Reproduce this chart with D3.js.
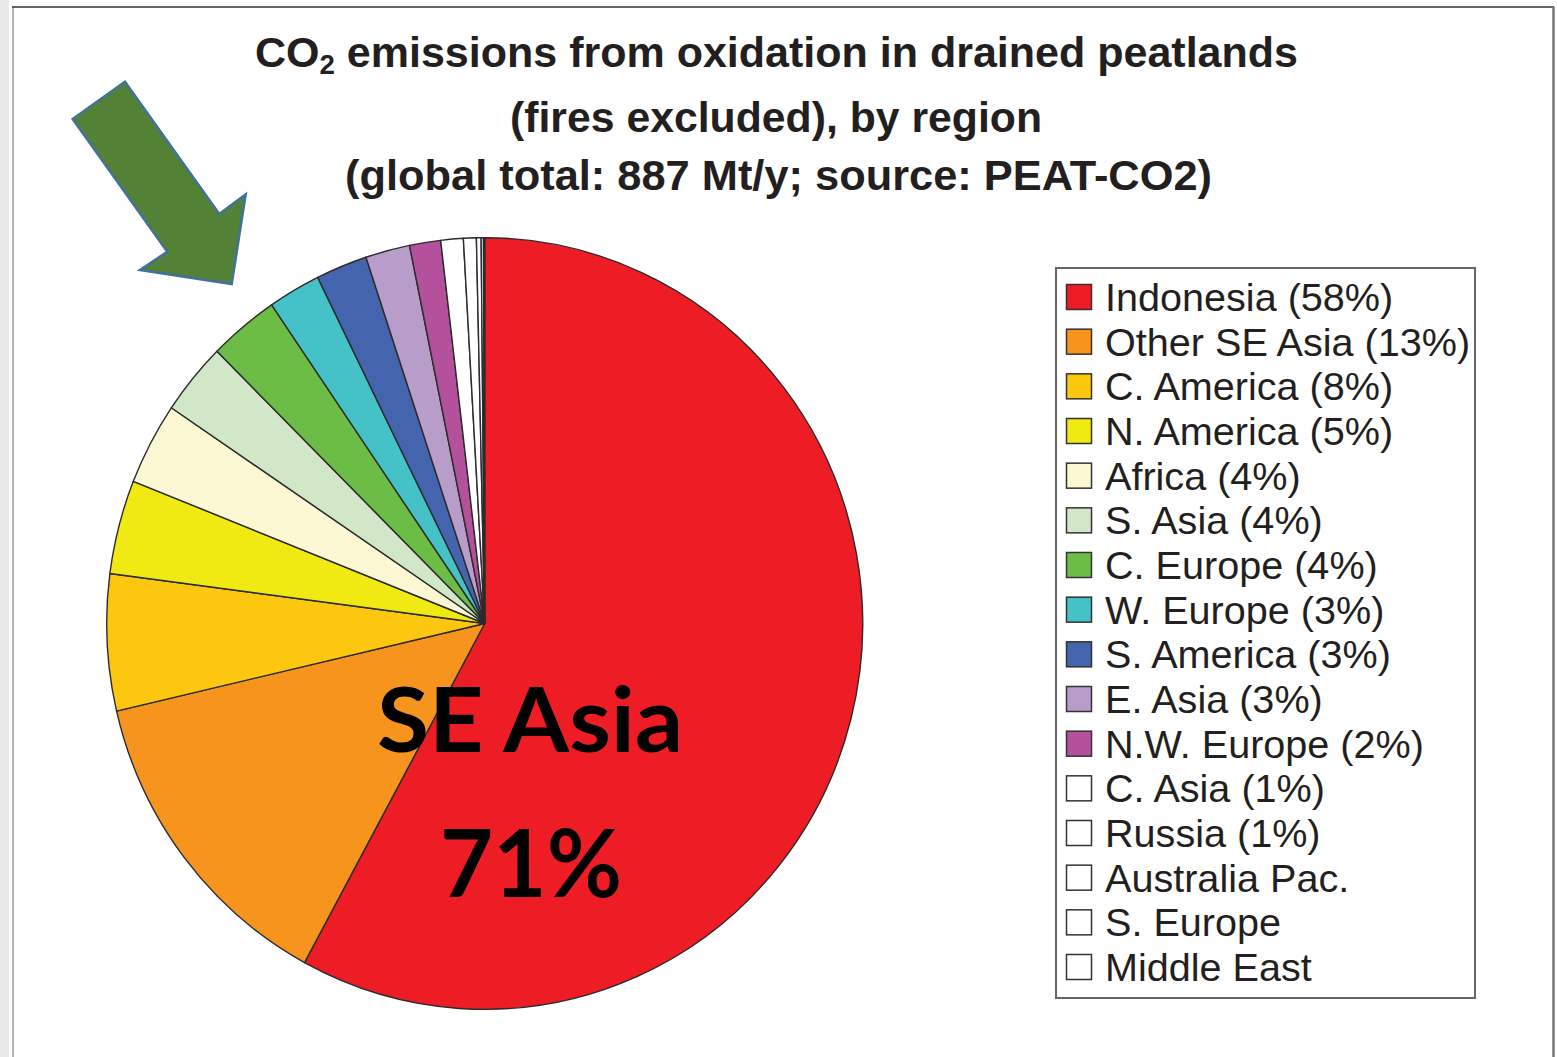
<!DOCTYPE html>
<html>
<head>
<meta charset="utf-8">
<script src="https://cdn.jsdelivr.net/npm/d3@7"></script>
<style>
  html, body { margin: 0; padding: 0; background: #ffffff; }
  svg { display: block; }
</style>
</head>
<body>
<svg id="chart" width="1557" height="1057"></svg>
<script>
// ---- Data ----
const regions = ["Indonesia", "Other SE Asia", "C. America", "N. America", "Africa", "S. Asia",
  "C. Europe", "W. Europe", "S. America", "E. Asia", "N.W. Europe", "C. Asia", "Russia",
  "Australia Pac.", "S. Europe", "Middle East"];
const legendLabels = ["Indonesia (58%)", "Other SE Asia (13%)", "C. America (8%)", "N. America (5%)",
  "Africa (4%)", "S. Asia (4%)", "C. Europe (4%)", "W. Europe (3%)", "S. America (3%)", "E. Asia (3%)",
  "N.W. Europe (2%)", "C. Asia (1%)", "Russia (1%)", "Australia Pac.", "S. Europe", "Middle East"];
const shares = [57.96, 13.46, 5.72, 3.94, 3.44, 3.03, 3.0, 2.25, 2.2, 1.9, 1.33, 0.96, 0.55, 0.2, 0.1, 0.05];
const colors = ["#ee1c25", "#f7941d", "#fdc70f", "#f1e912", "#fcf8d4", "#d2e7c8", "#6cbd45", "#45c1c8",
  "#4464ae", "#b89cca", "#b5519c", "#ffffff", "#ffffff", "#ffffff", "#ffffff", "#ffffff"];
const titleLines = ["(fires excluded), by region", "(global total: 887 Mt/y; source: PEAT-CO2)"];
const bigLabel = ["SE Asia", "71%"];

const data = regions.map((r, i) => ({ region: r, value: shares[i], color: colors[i], label: legendLabels[i] }));

const svg = d3.select("#chart");

// ---- Frame ----
svg.append("rect").attr("x", 0).attr("y", 0).attr("width", 9).attr("height", 1057).attr("fill", "#e9e9e9");
svg.append("line").attr("x1", 13).attr("x2", 13).attr("y1", 7).attr("y2", 1057)
  .attr("stroke", "#9a9a9a").attr("stroke-width", 1.5);
svg.append("line").attr("x1", 12).attr("x2", 1554).attr("y1", 7).attr("y2", 7)
  .attr("stroke", "#333").attr("stroke-width", 1.5);
svg.append("line").attr("x1", 1553.5).attr("x2", 1553.5).attr("y1", 7).attr("y2", 1057)
  .attr("stroke", "#777").attr("stroke-width", 2.5);

// ---- Title ----
const title = svg.append("g").attr("font-family", "'Liberation Sans', Arial, sans-serif")
  .attr("font-weight", "bold").attr("fill", "#231f20");
const t1 = title.append("text").attr("x", 255).attr("y", 67).attr("font-size", 42)
  .attr("textLength", 1043).attr("lengthAdjust", "spacingAndGlyphs");
t1.append("tspan").text("CO");
t1.append("tspan").attr("font-size", 27).attr("dy", 7).text("2");
t1.append("tspan").attr("dy", -7).text(" emissions from oxidation in drained peatlands");
title.append("text").attr("x", 510).attr("y", 132).attr("font-size", 42)
  .attr("textLength", 532).attr("lengthAdjust", "spacingAndGlyphs").text(titleLines[0]);
title.append("text").attr("x", 345).attr("y", 190).attr("font-size", 42)
  .attr("textLength", 867).attr("lengthAdjust", "spacingAndGlyphs").text(titleLines[1]);

// ---- Pie ----
const cx = 484.7, cy = 623.5, rx = 378, ry = 385.8;
const pie = d3.pie().value(d => d.value).sort(null).startAngle(0).endAngle(2 * Math.PI);
const arc = d3.arc().innerRadius(0).outerRadius(rx);
const pg = svg.append("g").attr("transform", `translate(${cx},${cy}) scale(1,${ry / rx})`);
pg.selectAll("path").data(pie(data)).join("path")
  .attr("d", arc)
  .attr("fill", d => d.data.color)
  .attr("stroke", "#2b2b2b")
  .attr("stroke-width", 1.4)
  .attr("stroke-linejoin", "round")
  .attr("vector-effect", "non-scaling-stroke");

// ---- Big label ----
const bl = svg.append("g").attr("font-family", "Lato, 'Open Sans', sans-serif").attr("font-weight", "bold").attr("fill", "#000");
bl.append("text").attr("x", 377).attr("y", 752).attr("font-size", 90)
  .attr("textLength", 306).attr("lengthAdjust", "spacingAndGlyphs").text(bigLabel[0]);
bl.append("text").attr("x", 440).attr("y", 897).attr("font-size", 93)
  .attr("textLength", 182).attr("lengthAdjust", "spacingAndGlyphs").text(bigLabel[1]);

// ---- Arrow ----
const arrowPts = [[72.7, 119], [125, 81.7], [219.3, 214], [245.7, 194.3], [231.7, 284], [140, 270], [167.3, 251.7]];
svg.append("polygon").attr("points", arrowPts.map(p => p.join(",")).join(" "))
  .attr("fill", "#538135").attr("stroke", "#41719c").attr("stroke-width", 2.5).attr("stroke-linejoin", "miter");

// ---- Legend ----
const lg = svg.append("g");
lg.append("rect").attr("x", 1056).attr("y", 268).attr("width", 419).attr("height", 730)
  .attr("fill", "#fff").attr("stroke", "#666").attr("stroke-width", 2);
const rowY = d3.scaleLinear().domain([0, data.length - 1]).range([297, 967]);
const rows = lg.selectAll("g.row").data(data).join("g").attr("class", "row")
  .attr("transform", (d, i) => `translate(0,${rowY(i)})`);
rows.append("rect").attr("x", 1066.5).attr("y", -12.5).attr("width", 25).attr("height", 25)
  .attr("fill", d => d.color).attr("stroke", "#333").attr("stroke-width", 1.5);
rows.append("text").attr("x", 1105).attr("y", 14)
  .attr("font-family", "'Liberation Sans', Arial, sans-serif").attr("font-size", 39.6).attr("fill", "#231f20")
  .text(d => d.label);
</script>
</body>
</html>
